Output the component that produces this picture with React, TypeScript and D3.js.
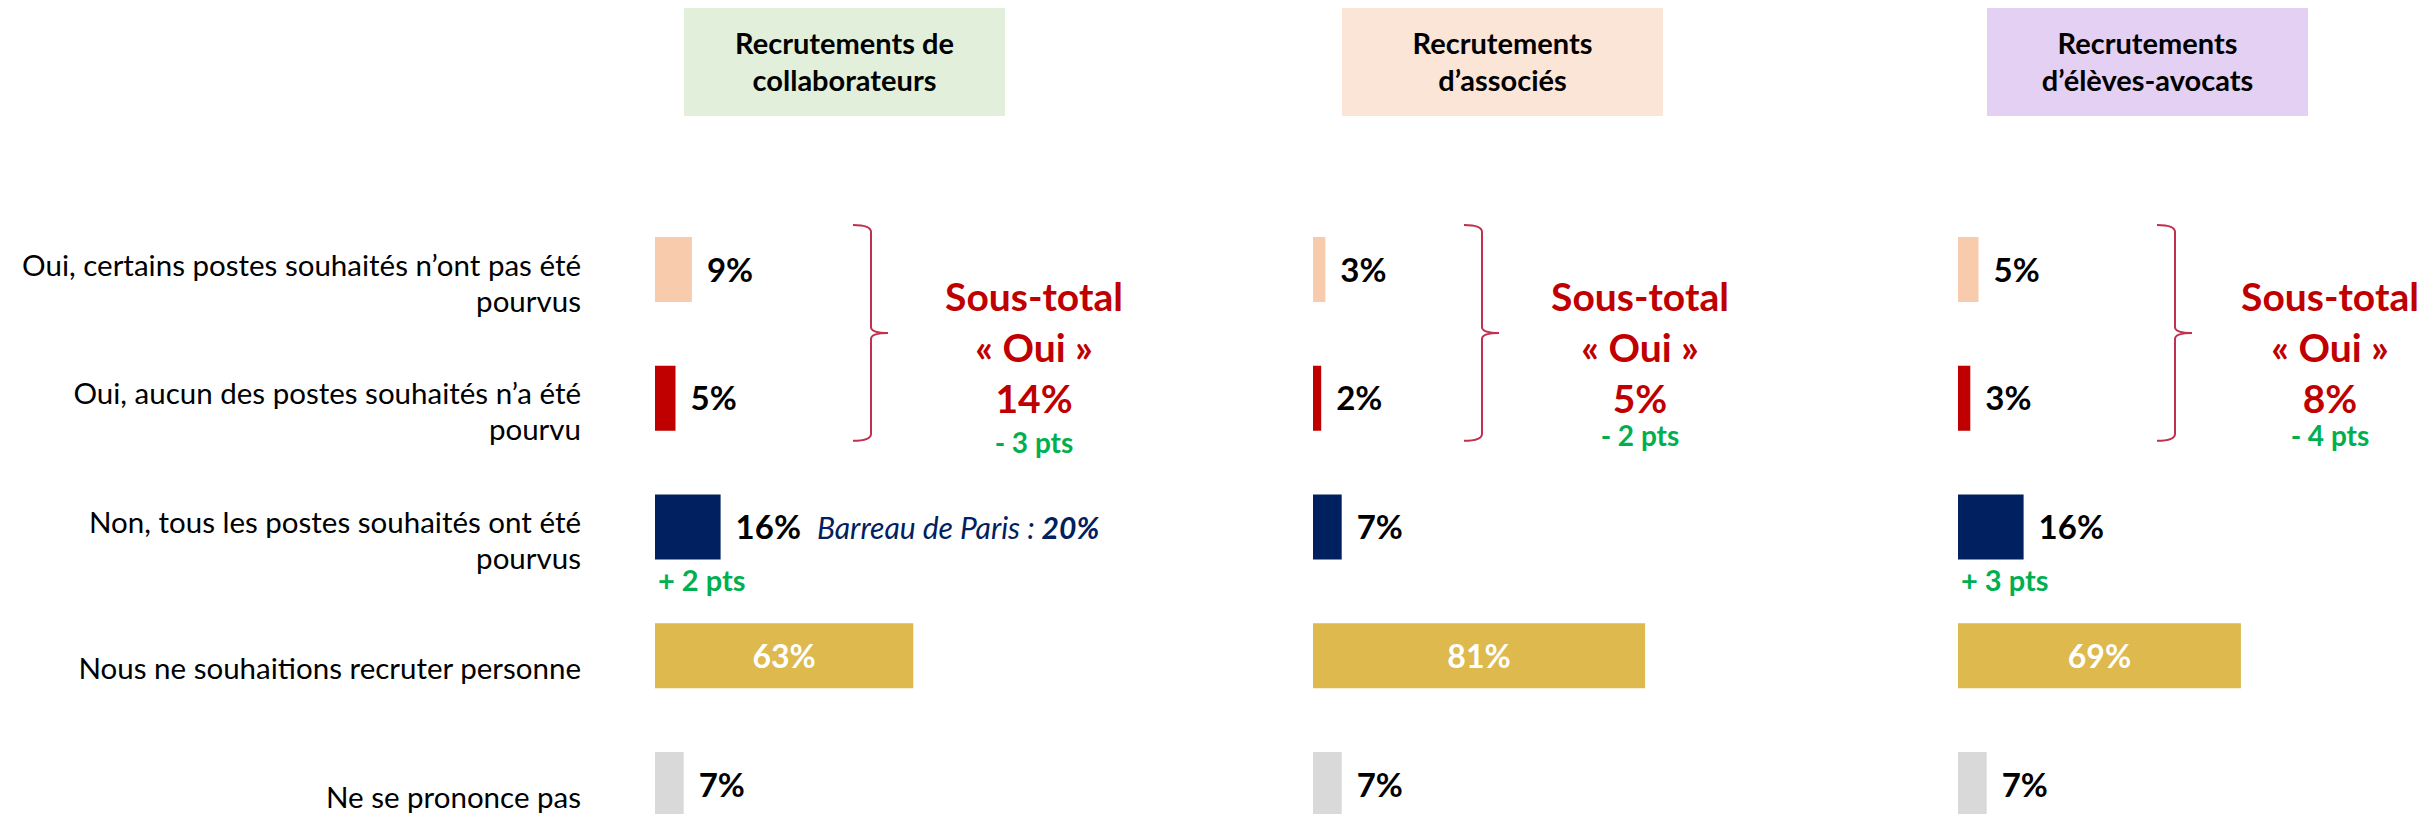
import React from "react";
import * as d3 from "d3";

// row categories (left labels, split on lines)
const categories = [
  "certains",
  "aucun",
  "tous",
  "personne",
  "nsp",
];
const categoryLabels = [
  ["Oui, certains postes souhaités n’ont pas été", "pourvus"],
  ["Oui, aucun des postes souhaités n’a été", "pourvu"],
  ["Non, tous les postes souhaités ont été", "pourvus"],
  ["Nous ne souhaitions recruter personne"],
  ["Ne se prononce pas"],
];
const barColors = ["#F8CBAD", "#C00000", "#002060", "#DDB94E", "#D9D9D9"];

// the three panels
const panelTitles = [
  ["Recrutements de", "collaborateurs"],
  ["Recrutements", "d’associés"],
  ["Recrutements", "d’élèves-avocats"],
];
const panelColors = ["#E2EFDA", "#FBE5D6", "#E3D0F2"];

// values in %
const collaborateurs = [9, 5, 16, 63, 7];
const associes = [3, 2, 7, 81, 7];
const elevesAvocats = [5, 3, 16, 69, 7];
const seriesValues = [collaborateurs, associes, elevesAvocats];

// sous-total « Oui » and changes
const subTotals = [14, 5, 8];
const subTotalDeltas = ["- 3 pts", "- 2 pts", "- 4 pts"];
const nonDeltas = ["+ 2 pts", null, "+ 3 pts"];
const parisNote = ["20%", null, null];

// layout per panel (x origin of bars, brace & subtotal offsets)
const panelX = [655, 1313, 1958];
const braceOffset = [198, 151, 199];
const subTotalOffset = [379, 327, 372];
const deltaDy = [7, 0, 0];

const W = 2430;
const H = 814;
const font = "Lato, 'Open Sans', sans-serif";

export default function App() {
  const y = d3
    .scaleBand()
    .domain(categories)
    .range([237, 237 + 5 * 128.75])
    .paddingInner(1 - 65 / 128.75)
    .paddingOuter((1 - 65 / 128.75) / 2)
    .align(0);
  const x = d3.scaleLinear().domain([0, 100]).range([0, 410]);
  const bw = y.bandwidth();

  const braceTop = (y(categories[0]) as number) - 12;
  const braceBot = (y(categories[1]) as number) + bw + 10;
  const braceMid = (braceTop + braceBot) / 2;

  return (
    <svg
      width={W}
      height={H}
      style={{ position: "absolute", left: 0, top: 0, display: "block" }}
      fontFamily={font}
    >
      <rect width={W} height={H} fill="#fff" />

      {/* row labels */}
      {categories.map((c, i) => {
        const cy = (y(c) as number) + bw / 2;
        const lines = categoryLabels[i];
        return (
          <text key={c} textAnchor="end" fontSize={29.5} fill="#000">
            {lines.map((l, j) => (
              <tspan
                key={j}
                x={581}
                y={lines.length === 1 ? cy + 23 : cy + 6 + j * 36}
              >
                {l}
              </tspan>
            ))}
          </text>
        );
      })}

      {seriesValues.map((vals, p) => {
        const x0 = panelX[p];
        const bL = x0 + braceOffset[p];
        const bV = bL + 18;
        const bT = bL + 35;
        const sx = x0 + subTotalOffset[p];
        const bracePath = [
          `M${bL},${braceTop}`,
          `Q${bV},${braceTop} ${bV},${braceTop + 7}`,
          `L${bV},${braceMid - 6}`,
          `Q${bV},${braceMid} ${bT},${braceMid}`,
          `Q${bV},${braceMid} ${bV},${braceMid + 6}`,
          `L${bV},${braceBot - 7}`,
          `Q${bV},${braceBot} ${bL},${braceBot}`,
        ].join(" ");
        return (
          <g key={p}>
            {/* header box */}
            <rect x={x0 + 29} y={8} width={321} height={108} fill={panelColors[p]} />
            <text textAnchor="middle" fontSize={29} fontWeight="bold" fill="#000">
              {panelTitles[p].map((t, j) => (
                <tspan key={j} x={x0 + 29 + 160.5} y={54 + j * 37}>
                  {t}
                </tspan>
              ))}
            </text>

            {/* bars */}
            {vals.map((v, i) => {
              const top = y(categories[i]) as number;
              const inside = i === 3;
              return (
                <g key={i}>
                  <rect x={x0} y={top} width={x(v)} height={bw} fill={barColors[i]} />
                  {inside ? (
                    <text
                      x={x0 + x(v) / 2}
                      y={top + bw / 2 + 12}
                      textAnchor="middle"
                      fontSize={32}
                      fontWeight="bold"
                      fill="#fff"
                    >
                      {v}%
                    </text>
                  ) : (
                    <text
                      x={x0 + x(v) + 15}
                      y={top + bw / 2 + 12}
                      fontSize={33}
                      fontWeight="bold"
                      fill="#000"
                    >
                      {v}%
                      {i === 2 && parisNote[p] ? (
                        <tspan dx={16} fontSize={30} fontStyle="italic" fill="#002060">
                          <tspan fontWeight="normal">Barreau de Paris : </tspan>
                          <tspan fontWeight="bold">{parisNote[p]}</tspan>
                        </tspan>
                      ) : null}
                    </text>
                  )}
                  {i === 2 && nonDeltas[p] ? (
                    <text
                      x={x0 + 3}
                      y={top + bw + 31}
                      fontSize={29}
                      fontWeight="bold"
                      fill="#00B050"
                    >
                      {nonDeltas[p]}
                    </text>
                  ) : null}
                </g>
              );
            })}

            {/* brace and subtotal */}
            <path d={bracePath} fill="none" stroke="#C0304F" strokeWidth={2} />
            <text textAnchor="middle" fontWeight="bold" fill="#C00000" fontSize={39}>
              <tspan x={sx} y={311}>Sous-total</tspan>
              <tspan x={sx} y={362}>« Oui »</tspan>
              <tspan x={sx} y={413}>{subTotals[p]}%</tspan>
            </text>
            <text
              x={sx}
              y={446 + deltaDy[p]}
              textAnchor="middle"
              fontWeight="bold"
              fill="#00B050"
              fontSize={28}
            >
              {subTotalDeltas[p]}
            </text>
          </g>
        );
      })}
    </svg>
  );
}
